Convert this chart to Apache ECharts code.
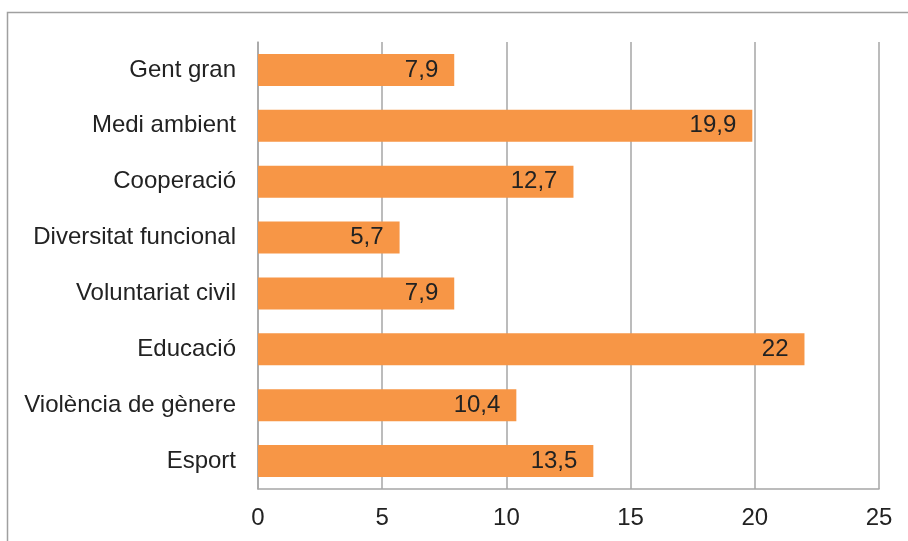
<!DOCTYPE html>
<html>
<head>
<meta charset="utf-8">
<script src="https://cdn.jsdelivr.net/npm/echarts@6/dist/echarts.min.js"></script>
<style>html,body{margin:0;padding:0;background:#fff}#c{width:908px;height:541px}</style>
</head>
<body>
<div id="c"></div>
<script>
const categories = ["Gent gran", "Medi ambient", "Cooperació", "Diversitat funcional", "Voluntariat civil", "Educació", "Violència de gènere", "Esport"];
const values = [7.9, 19.9, 12.7, 5.7, 7.9, 22, 10.4, 13.5];
const xTicks = [0, 5, 10, 15, 20, 25];

const chart = echarts.init(document.getElementById('c'), null, {renderer: 'canvas'});
const font = '"Liberation Sans", Arial, sans-serif';
chart.setOption({
  animation: false,
  backgroundColor: '#fff',
  graphic: [{
    type: 'rect', left: 5, top: 10, shape: {width: 1200, height: 1000},
    style: {fill: 'none', stroke: '#a0a0a0', lineWidth: 1.5}, silent: true
  }],
  grid: {left: 258, right: 29, top: 42, bottom: 52, containLabel: false},
  xAxis: {
    type: 'value', min: xTicks[0], max: xTicks[xTicks.length - 1], interval: 5,
    axisLine: {show: true, lineStyle: {color: '#a6a6a6', width: 1.5}},
    axisTick: {show: false},
    splitLine: {show: true, lineStyle: {color: '#a6a6a6', width: 1.5}},
    axisLabel: {color: '#222', fontFamily: font, fontSize: 24, margin: 17}
  },
  yAxis: {
    type: 'category', data: categories, inverse: true,
    axisLine: {show: true, lineStyle: {color: '#a6a6a6', width: 1.5}},
    axisTick: {show: false},
    axisLabel: {color: '#222', fontFamily: font, fontSize: 24, margin: 22}
  },
  series: [{
    type: 'bar', data: values, barWidth: 32,
    itemStyle: {color: '#f79646'},
    label: {
      show: true, position: 'insideRight', distance: 16,
      color: '#222', fontFamily: font, fontSize: 24,
      formatter: p => String(p.value).replace('.', ',')
    }
  }]
});
</script>
</body>
</html>
